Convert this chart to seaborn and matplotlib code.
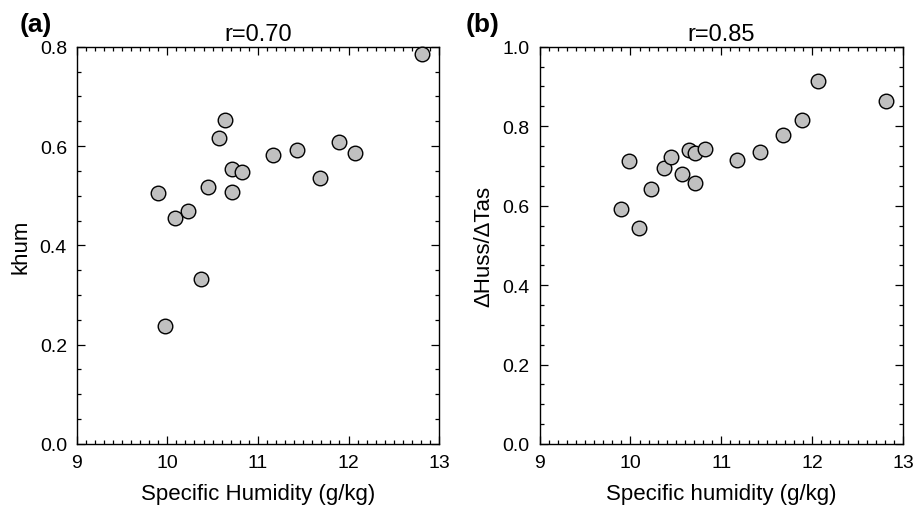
import numpy as np
import pandas as pd
from matplotlib import pyplot as plt
from matplotlib.ticker import MultipleLocator
import seaborn as sns

# values
humidity = [9.90, 9.98, 10.09, 10.23, 10.37, 10.45, 10.57, 10.64, 10.71, 10.71,
            10.82, 11.17, 11.43, 11.68, 11.89, 12.07, 12.81]
khum = [0.505, 0.238, 0.455, 0.469, 0.333, 0.518, 0.616, 0.652, 0.553, 0.507,
        0.548, 0.583, 0.593, 0.535, 0.609, 0.586, 0.785]
dhuss_dtas = [0.592, 0.713, 0.543, 0.643, 0.695, 0.723, 0.680, 0.740, 0.733, 0.656,
              0.743, 0.714, 0.734, 0.779, 0.816, 0.914, 0.863]

df = pd.DataFrame({'huss': humidity, 'khum': khum, 'ratio': dhuss_dtas})

sns.set_style("ticks")
plt.rcParams['font.family'] = ['Liberation Sans', 'DejaVu Sans']
plt.rcParams['text.color'] = 'black'
plt.rcParams['axes.labelcolor'] = 'black'

fig = plt.figure(figsize=(9.13, 5.06), dpi=100)
ax1 = fig.add_axes([0.084, 0.1206, 0.397, 0.785])
ax2 = fig.add_axes([0.591, 0.1206, 0.398, 0.785])

panels = [
    (ax1, 'khum', 'khum', 'r=0.70', 'Specific Humidity (g/kg)', 0.8, '(a)', 0.022),
    (ax2, 'ratio', '\u0394Huss/\u0394Tas', 'r=0.85', 'Specific humidity (g/kg)', 1.0, '(b)', 0.510),
]

for ax, col, ylab, title, xlab, ytop, tag, tx in panels:
    sns.scatterplot(data=df, x='huss', y=col, ax=ax, s=110, color='#c0c0c0',
                    edgecolor='black', linewidth=1.0, zorder=3, clip_on=False)
    ax.set_xlim(9, 13)
    ax.set_ylim(0, ytop)
    ax.xaxis.set_major_locator(MultipleLocator(1))
    ax.xaxis.set_minor_locator(MultipleLocator(0.1))
    ax.yaxis.set_major_locator(MultipleLocator(0.2))
    ax.yaxis.set_minor_locator(MultipleLocator(0.05))
    ax.yaxis.set_major_formatter(plt.FormatStrFormatter('%.1f'))
    ax.tick_params(which='both', direction='in', top=True, right=True,
                   colors='black', width=0.9)
    ax.tick_params(which='major', length=6, labelsize=14, pad=7)
    ax.tick_params(which='minor', length=3)
    for sp in ax.spines.values():
        sp.set_visible(True)
        sp.set_color('black')
        sp.set_linewidth(1.0)
    ax.set_xlabel(xlab, fontsize=16, labelpad=9)
    ax.set_ylabel(ylab, fontsize=16, labelpad=6)
    ax.set_title(title, fontsize=17, pad=5)
    fig.text(tx, 0.951, tag, fontsize=19, fontweight='bold',
             va='center', ha='left')

fig.savefig('out.png', dpi=100)
